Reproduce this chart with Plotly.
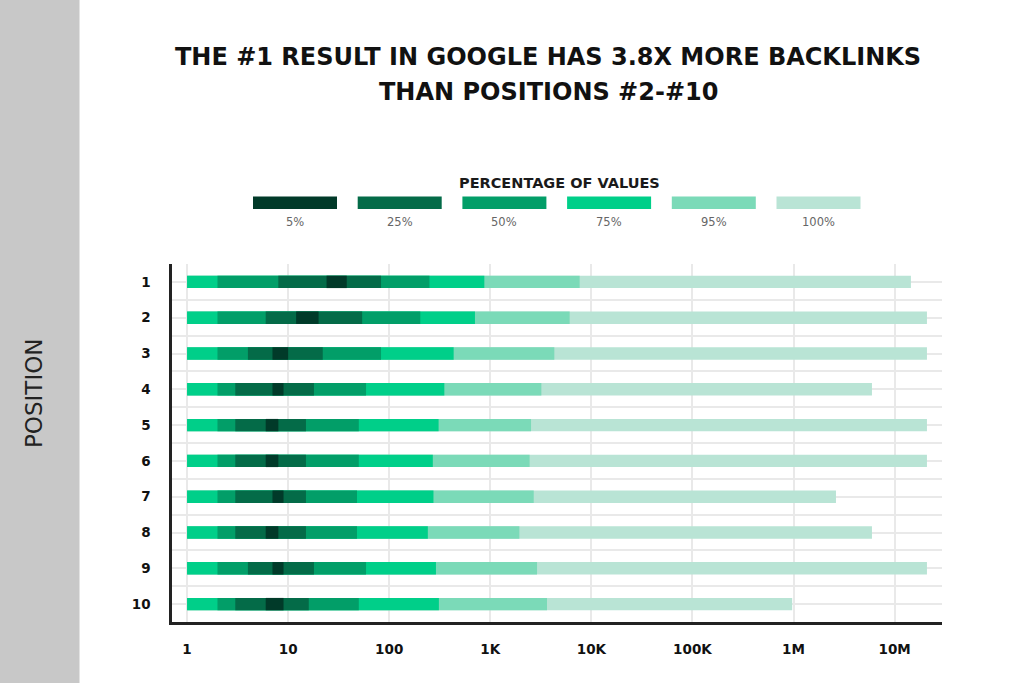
import plotly.graph_objects as go

# ---------------- data ----------------
positions = [1, 2, 3, 4, 5, 6, 7, 8, 9, 10]
position_labels = ["1", "2", "3", "4", "5", "6", "7", "8", "9", "10"]

# lower bounds of bands (values below 1 clipped at 1)
p100_lo = [1, 1, 1, 1, 1, 1, 1, 1, 1, 1]
p95_lo = [1, 1, 1, 1, 1, 1, 1, 1, 1, 1]
p75_lo = [1, 1, 1, 1, 1, 1, 1, 1, 1, 1]
p50_lo = [2, 2, 2, 2, 2, 2, 2, 2, 2, 2]
p25_lo = [8, 6, 4, 3, 3, 3, 3, 3, 4, 3]
p5_lo = [24, 12, 7, 7, 6, 6, 7, 6, 7, 6]
# upper bounds of bands
p5_hi = [38, 20, 10, 9, 8, 8, 9, 8, 9, 9]
p25_hi = [83, 54, 22, 18, 15, 15, 15, 15, 18, 16]
p50_hi = [250, 203, 83, 59, 50, 50, 48, 48, 59, 50]
p75_hi = [873, 705, 434, 351, 308, 270, 274, 241, 290, 310]
p95_hi = [7660, 6100, 4300, 3200, 2530, 2450, 2690, 1940, 2900, 3640]
p100_hi = [14500000, 20900000, 20900000, 5970000, 20900000,
           20900000, 2630000, 5970000, 20900000, 970000]

tick_vals = [1, 10, 100, 1000, 10000, 100000, 1000000, 10000000]
tick_text = ["1", "10", "100", "1K", "10K", "100K", "1M", "10M"]

band_names = ["100%", "95%", "75%", "50%", "25%", "5%"]
band_colors = ["#b9e4d5", "#7bdab8", "#00cf89", "#029e68", "#046b48", "#013a29"]
band_lo = [p100_lo, p95_lo, p75_lo, p50_lo, p25_lo, p5_lo]
band_hi = [p100_hi, p95_hi, p75_hi, p50_hi, p25_hi, p5_hi]

FONT = "DejaVu Sans"

fig = go.Figure()
for name, col, lo, hi in zip(band_names, band_colors, band_lo, band_hi):
    fig.add_trace(go.Bar(
        y=positions,
        x=[h - l for h, l in zip(hi, lo)],
        base=lo,
        orientation="h",
        marker=dict(color=col, line=dict(width=0)),
        width=0.345,
        name=name,
        showlegend=False,
        hoverinfo="skip",
    ))

# plot area in pixels
W, H = 1024, 683
L, R, T, B = 172, 942, 264, 622


def px(xp):
    return (xp - L) / (R - L)


def py(yp):
    return (B - yp) / (B - T)


shapes = []
annotations = []

# gray side band
shapes.append(dict(type="rect", xref="paper", yref="paper",
                   x0=px(-5), x1=px(79.5), y0=py(H + 5), y1=py(-5),
                   fillcolor="#c8c8c8", line=dict(width=0), layer="below"))

# legend
legend_order = ["5%", "25%", "50%", "75%", "95%", "100%"]
legend_cols = dict(zip(band_names, band_colors))
sw_w, sw_gap, sw_x0 = 84, 104.7, 253
for i, nm in enumerate(legend_order):
    x0 = sw_x0 + i * sw_gap
    shapes.append(dict(type="rect", xref="paper", yref="paper",
                       x0=px(x0), x1=px(x0 + sw_w), y0=py(209), y1=py(196.5),
                       fillcolor=legend_cols[nm], line=dict(width=0)))
    annotations.append(dict(xref="paper", yref="paper", x=px(x0 + sw_w / 2), y=py(221.5),
                            text=nm, showarrow=False, xanchor="center", yanchor="middle",
                            font=dict(family=FONT, size=11.5, color="#666666")))
annotations.append(dict(xref="paper", yref="paper", x=px(559), y=py(182.5),
                        text="<b>PERCENTAGE OF VALUES</b>", showarrow=False,
                        xanchor="center", yanchor="middle",
                        font=dict(family=FONT, size=14.5, color="#1a1a1a")))

# title
annotations.append(dict(xref="paper", yref="paper", x=px(548), y=py(57),
                        text="<b>THE #1 RESULT IN GOOGLE HAS 3.8X MORE BACKLINKS</b>",
                        showarrow=False, xanchor="center", yanchor="middle",
                        font=dict(family=FONT, size=24, color="#111111")))
annotations.append(dict(xref="paper", yref="paper", x=px(548), y=py(92),
                        text="<b>THAN POSITIONS #2-#10</b>",
                        showarrow=False, xanchor="center", yanchor="middle",
                        font=dict(family=FONT, size=24, color="#111111")))

# y axis title
annotations.append(dict(xref="paper", yref="paper", x=px(34), y=py(393),
                        text="POSITION", textangle=-90, showarrow=False,
                        xanchor="center", yanchor="middle",
                        font=dict(family=FONT, size=23, color="#222222")))

fig.update_layout(
    width=W, height=H,
    margin=dict(l=L, r=W - R, t=T, b=H - B, pad=0),
    paper_bgcolor="white", plot_bgcolor="white",
    barmode="overlay",
    shapes=shapes, annotations=annotations,
    showlegend=False,
)
fig.update_xaxes(
    type="log", range=[-0.149, 7.469],
    tickvals=tick_vals, ticktext=tick_text,
    showgrid=True, gridcolor="#e9e9e9", gridwidth=1.5,
    showline=True, linecolor="#222222", linewidth=2.5,
    ticks="", ticklabelstandoff=13,
    tickfont=dict(family=FONT, size=13.5, color="#111111", weight="bold"),
    zeroline=False,
)
fig.update_yaxes(
    range=[10.5, 0.5],
    tickvals=positions, ticktext=position_labels,
    showgrid=True, gridcolor="#e9e9e9", gridwidth=1.5,
    minor=dict(tick0=0.5, dtick=1, showgrid=True, gridcolor="#e9e9e9", gridwidth=1.5),
    showline=True, linecolor="#222222", linewidth=2.5,
    ticks="", ticklabelstandoff=16,
    tickfont=dict(family=FONT, size=13.5, color="#111111", weight="bold"),
    zeroline=False,
)

fig.write_html(
    "out.html",
    config={"displayModeBar": False},
    post_script="document.body.style.margin='0';document.body.style.padding='0';",
)
